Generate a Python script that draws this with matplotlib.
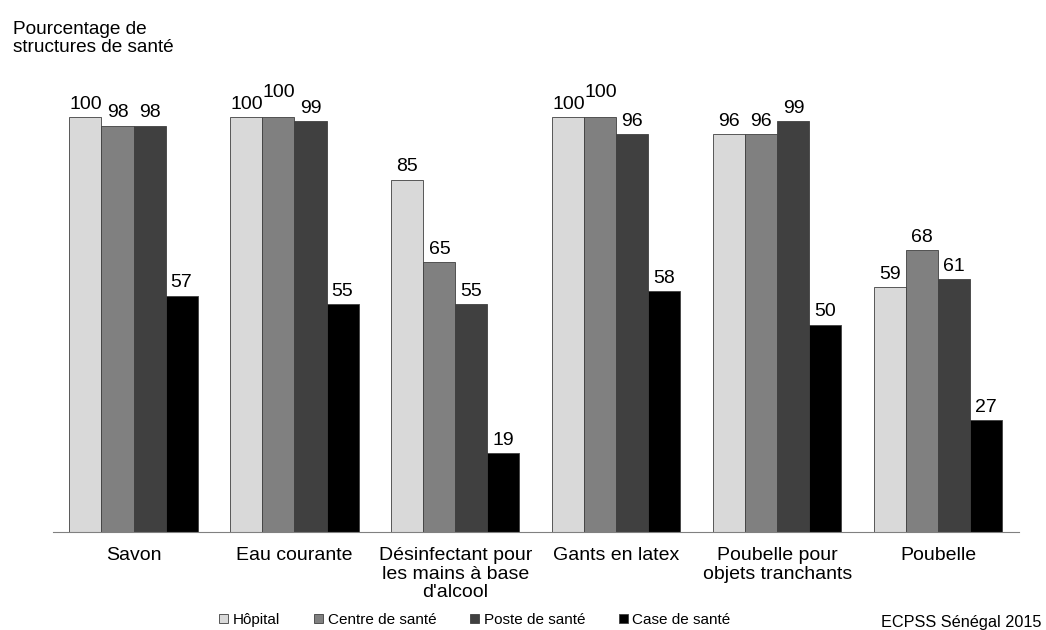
import matplotlib.pyplot as plt
import numpy as np
from matplotlib.patches import Patch

plt.rcParams['font.family'] = ['Liberation Sans', 'DejaVu Sans']

categories = ["Savon", "Eau courante", "Désinfectant pour\nles mains à base\nd'alcool",
              "Gants en latex", "Poubelle pour\nobjets tranchants", "Poubelle"]
series = ["Hôpital", "Centre de santé", "Poste de santé", "Case de santé"]
hopital = [100, 100, 85, 100, 96, 59]
centre = [98, 100, 65, 100, 96, 68]
poste = [98, 99, 55, 96, 99, 61]
case = [57, 55, 19, 58, 50, 27]
colors = ["#d9d9d9", "#808080", "#404040", "#000000"]

values = [hopital, centre, poste, case]

fig = plt.figure(figsize=(10.46, 6.3), dpi=100)
ax = fig.add_axes([0.0507, 0.1556, 0.9233, 0.7174])

x = np.arange(len(categories))
w = 0.199
for i, (vals, col) in enumerate(zip(values, colors)):
    pos = x + (i - 1.5) * w
    ax.bar(pos, vals, w, color=col, edgecolor="#404040", linewidth=0.6)
    for j, (p, v) in enumerate(zip(pos, vals)):
        # raise a label when the previous bar has the same height (overlap)
        extra = 0
        if i > 0 and values[i - 1][j] == v and v == 100:
            extra = 9
        ax.annotate(str(v), (p, v), xytext=(0, 3 + extra), textcoords="offset points",
                    ha="center", va="bottom", fontsize=14)

ax.set_xlim(-0.5, len(categories) - 0.5)
ax.set_ylim(0, 109)
ax.set_xticks(x)
ax.set_xticklabels(categories, fontsize=14, linespacing=1.12)
ax.tick_params(axis="x", length=0, pad=11)
ax.set_yticks([])
for s in ["top", "right", "left"]:
    ax.spines[s].set_visible(False)
ax.spines["bottom"].set_color("#808080")

fig.text(0.012, 0.966, "Pourcentage de\nstructures de santé", fontsize=13.7,
         va="top", ha="left", linespacing=1.05)
fig.text(0.996, 0.005, "ECPSS Sénégal 2015", fontsize=11.7, ha="right", va="baseline")

handles = [Patch(facecolor=c, edgecolor="#404040", linewidth=0.6) for c in colors]
fig.legend(handles, series, loc="lower center", bbox_to_anchor=(0.454, -0.017), ncol=4,
           frameon=False, fontsize=11, handlelength=0.6, handleheight=0.6,
           handletextpad=0.3, columnspacing=2.2)

fig.savefig("out.png", dpi=100)
